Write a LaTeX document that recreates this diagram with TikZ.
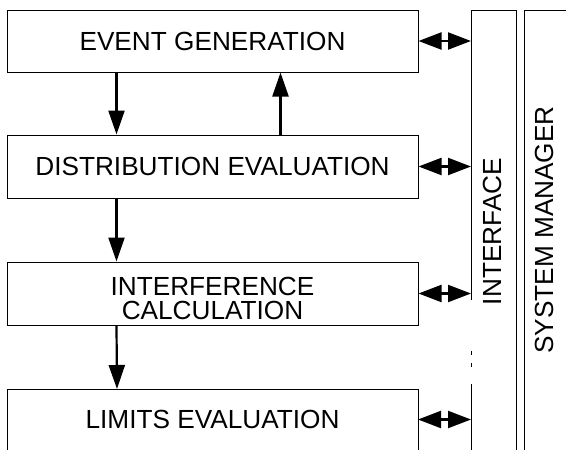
\documentclass[tikz,border=0pt]{standalone}
\usepackage{fontspec}
\setmainfont{Liberation Sans}
\usetikzlibrary{arrows.meta}
\begin{document}
\begin{tikzpicture}[x=1pt,y=-1pt,
  stage/.style={draw, line width=1pt, minimum width=411pt, minimum height=63pt, inner sep=0pt, font=\fontsize{26.2pt}{24.5pt}\selectfont},
  lbl/.style={inner sep=0pt, font=\fontsize{26.2pt}{24.5pt}\selectfont, align=center},
  flow/.style={line width=2.2pt, -{Triangle[length=24pt,width=16pt]}},
  dflow/.style={line width=2.2pt, {Triangle[length=23pt,width=17pt]}-{Triangle[length=23pt,width=17pt]}},
  wall/.style={line width=1pt}]
\useasboundingbox (0,0) rectangle (566,450);
% stage boxes
\node[stage, minimum height=62pt] (b1) at (212.5,41) {EVENT GENERATION};
\node[stage] (b2) at (212.5,166.5) {DISTRIBUTION EVALUATION};
\node[stage] (b3) at (212.5,293.5) {};
\node[lbl] (t3) at (212.5,298.5) {INTERFERENCE\\CALCULATION};
% open bottom box
\coordinate (b4sw) at (7,450);
\coordinate (b4nw) at (7,389);
\coordinate (b4ne) at (418,389);
\coordinate (b4se) at (418,450);
\draw[wall] (b4sw) -- (b4nw) -- (b4ne) -- (b4se);
\node[lbl] (b4) at (212.5,419.5) {LIMITS EVALUATION};
\coordinate (b4e) at (418,419.5);
% interface column
\coordinate (ifl) at (471,10);
\coordinate (ifr) at (516,10);
\draw[wall] (471,300) -- (ifl) -- (ifr) -- (516,450);
\draw[wall] (471,384) -- (471,450);
\draw[wall] (471,351) -- (471,355);
\draw[wall] (471,363) -- (471,367);
\node[lbl, rotate=90] (itf) at (492.5,231.5) {INTERFACE};
% system manager
\coordinate (sml) at (524,10);
\draw[wall] (524,450) -- (sml) -- (566,10);
\node[lbl, rotate=90] (sm) at (544,230) {SYSTEM MANAGER};
% vertical flows
\draw[flow] ([xshift=110pt]b1.south west) -- ([xshift=110pt]b2.north west);
\draw[flow] ([xshift=274pt]b2.north west) -- ([xshift=274pt]b1.south west);
\draw[flow] ([xshift=110pt]b2.south west) -- ([xshift=110pt]b3.north west);
\draw[flow] ([xshift=110pt]b3.south west) -- ([xshift=110pt]b4nw);
% interface links
\draw[dflow] (b1.east) -- (b1.east -| ifl);
\draw[dflow] (b2.east) -- (b2.east -| ifl);
\draw[dflow] (b3.east) -- (b3.east -| ifl);
\draw[dflow] (b4e) -- (b4e -| ifl);
\end{tikzpicture}
\end{document}
